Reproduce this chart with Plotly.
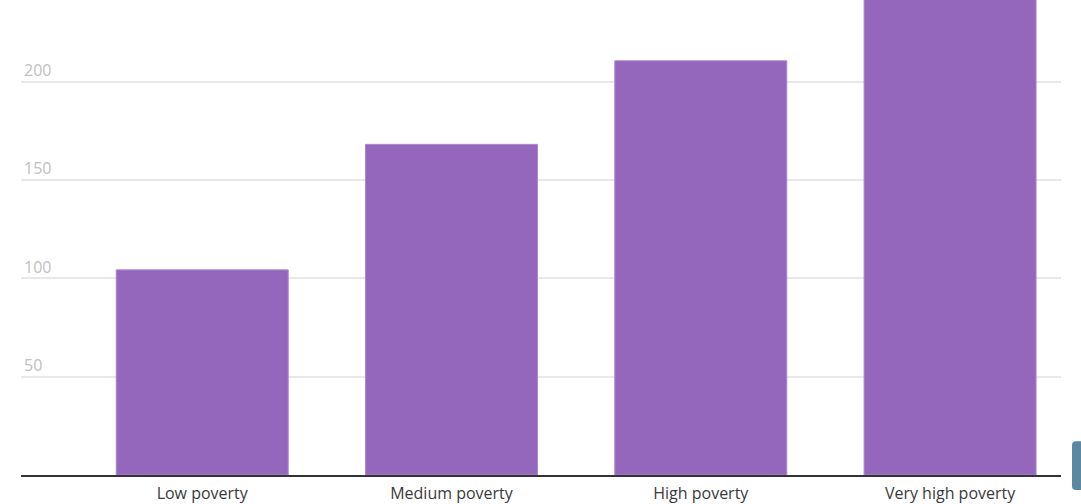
import plotly.graph_objects as go

# Rates by poverty level of the area
categories = ["Low poverty", "Medium poverty", "High poverty", "Very high poverty"]
values = [104.3, 168.1, 210.6, 250.0]
y_ticks = [50, 100, 150, 200]

W, H = 1081, 504
left, right, top, bottom = 21, 20, 0, 27
plot_w = W - left - right
plot_h = H - top - bottom

fig = go.Figure(
    go.Bar(
        x=list(range(len(categories))),
        y=values,
        marker=dict(color="#9467bd", line=dict(color="#a98bd0", width=1)),
        width=0.69,
        hoverinfo="skip",
    )
)

fig.update_layout(
    width=W,
    height=H,
    margin=dict(l=left, r=right, t=top, b=bottom, pad=0),
    paper_bgcolor="white",
    plot_bgcolor="white",
    showlegend=False,
    font=dict(family="Open Sans, sans-serif"),
    xaxis=dict(
        range=[-0.727, 3.445],
        tickmode="array",
        tickvals=list(range(len(categories))),
        ticktext=categories,
        tickfont=dict(size=16, color="#3a3a3a"),
        ticklabelstandoff=3,
        showgrid=False,
        zeroline=False,
        showline=True,
        linecolor="#333333",
        linewidth=2,
        ticks="",
        fixedrange=True,
    ),
    yaxis=dict(
        range=[0, 241.5],
        tickmode="array",
        tickvals=y_ticks,
        ticktext=[str(v) for v in y_ticks],
        ticklabelposition="inside top",
        tickfont=dict(size=16, color="#c0c0c0"),
        showgrid=True,
        gridcolor="#e8e8e8",
        gridwidth=1.5,
        zeroline=False,
        showline=False,
        ticks="",
        fixedrange=True,
        layer="below traces",
    ),
)

# small rounded tab at the lower-right edge
def px_x(p):
    return (p - left) / plot_w

def px_y(p):
    return (H - bottom - p) / plot_h

xa, xb = px_x(1072), px_x(1095)
ya, yb = px_y(492), px_y(443)
rx, ry = 4 / plot_w, 4 / plot_h
tab_path = (
    f"M {xa + rx},{yb} L {xb},{yb} L {xb},{ya} L {xa + rx},{ya} "
    f"Q {xa},{ya} {xa},{ya + ry} L {xa},{yb - ry} Q {xa},{yb} {xa + rx},{yb} Z"
)
fig.add_shape(
    type="path",
    xref="paper", yref="paper",
    path=tab_path,
    fillcolor="#5b88a3",
    line=dict(width=0),
    layer="above",
)

fig.write_html("out.html", config={"displayModeBar": False})
